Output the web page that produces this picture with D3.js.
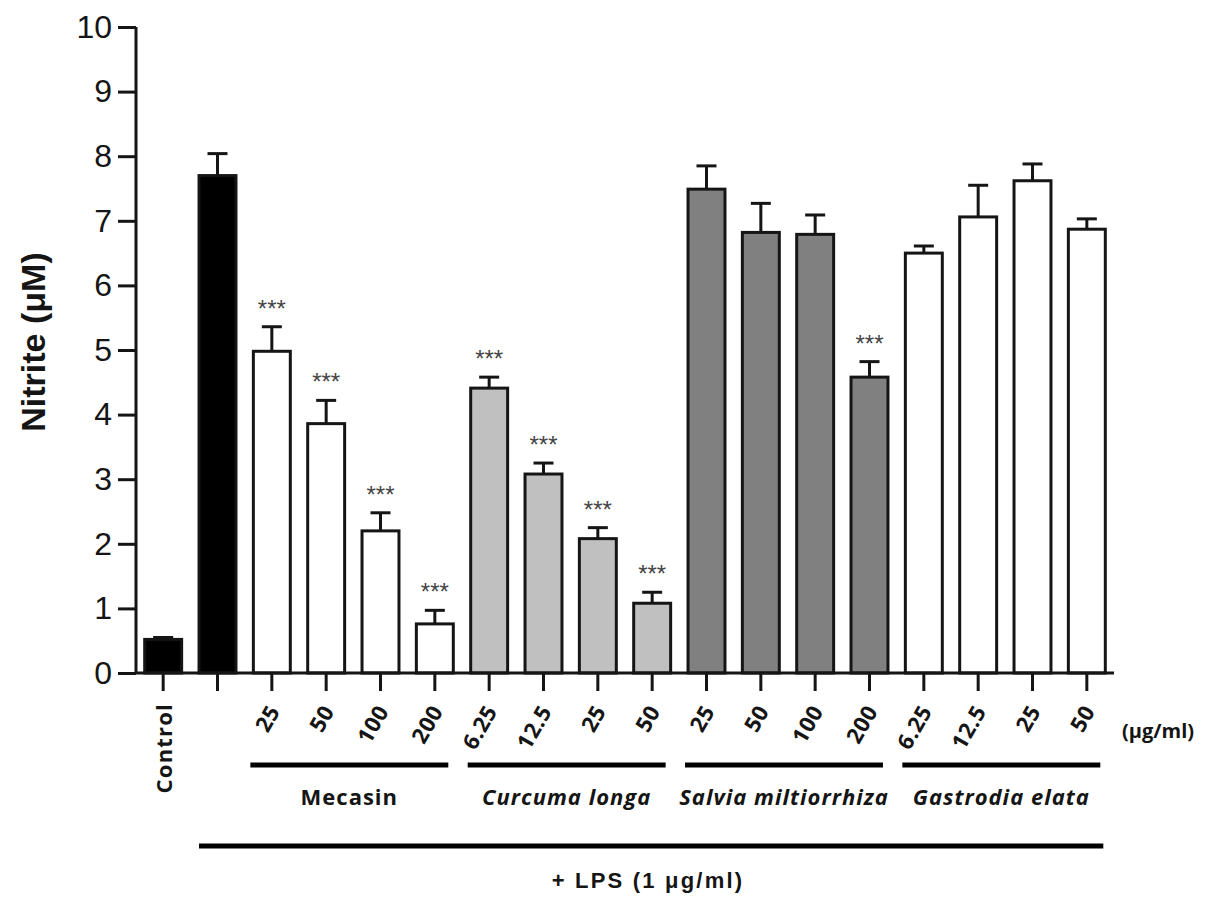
<!DOCTYPE html>
<html>
<head>
<meta charset="utf-8">
<script src="https://cdn.jsdelivr.net/npm/d3@7"></script>
<style>
  body { margin: 0; background: #fff; }
  svg { display: block; }
</style>
</head>
<body>
<svg width="1205" height="907"></svg>
<script>
// bar labels under the x axis, one per bar (Control + LPS + 4 groups of 4 doses)
var doseLabels = ["Control", "", "25", "50", "100", "200", "6.25", "12.5", "25", "50",
                  "25", "50", "100", "200", "6.25", "12.5", "25", "50"];
// nitrite (uM)
var means = [0.52, 7.70, 4.98, 3.86, 2.20, 0.76, 4.41, 3.08, 2.08, 1.08,
             7.49, 6.82, 6.79, 4.58, 6.50, 7.06, 7.62, 6.87];
var errs  = [0.03, 0.34, 0.38, 0.36, 0.28, 0.21, 0.17, 0.17, 0.17, 0.17,
             0.36, 0.45, 0.30, 0.24, 0.11, 0.49, 0.26, 0.16];
var stars = ["", "", "***", "***", "***", "***", "***", "***", "***", "***",
             "", "", "", "***", "", "", "", ""];
var barGroup = ["ctrl", "lps", "mec", "mec", "mec", "mec", "cur", "cur", "cur", "cur",
                "sal", "sal", "sal", "sal", "gas", "gas", "gas", "gas"];
var groupNames = ["Mecasin", "Curcuma longa", "Salvia miltiorrhiza", "Gastrodia elata"];
var groupKeys = ["mec", "cur", "sal", "gas"];
var yTicks = [0, 1, 2, 3, 4, 5, 6, 7, 8, 9, 10];

var fillFor = {ctrl: "#000", lps: "#000", mec: "#fff", cur: "#c0c0c0", sal: "#808080", gas: "#fff"};

var svg = d3.select("svg");
var idx = d3.range(means.length);

var x = d3.scaleBand().domain(idx).range([136, 1114]).paddingInner(0.32).paddingOuter(0.16);
var y = d3.scaleLinear().domain([0, 10]).range([673, 27]);
var bw = x.bandwidth();

// bars
svg.append("g").selectAll("rect").data(idx).join("rect")
  .attr("x", i => x(i))
  .attr("y", i => y(means[i]))
  .attr("width", bw)
  .attr("height", i => y(0) - y(means[i]))
  .attr("fill", i => fillFor[barGroup[i]])
  .attr("stroke", "#151515")
  .attr("stroke-width", 3);

// error bars (upper only)
var eb = svg.append("g").attr("stroke", "#151515").attr("stroke-width", 3);
idx.forEach(function (i) {
  var cx = x(i) + bw / 2;
  eb.append("line").attr("x1", cx).attr("x2", cx).attr("y1", y(means[i])).attr("y2", y(means[i] + errs[i]));
  eb.append("line").attr("x1", cx - 10).attr("x2", cx + 10).attr("y1", y(means[i] + errs[i])).attr("y2", y(means[i] + errs[i]));
});

// significance stars
svg.append("g").selectAll("text").data(idx.filter(i => stars[i])).join("text")
  .attr("x", i => x(i) + bw / 2)
  .attr("y", i => y(means[i] + errs[i]) - 10)
  .attr("text-anchor", "middle")
  .attr("font-family", "Arial, 'Liberation Sans', sans-serif")
  .attr("font-size", 24)
  .attr("fill", "#444")
  .text(i => stars[i]);

// y axis
var yAxis = svg.append("g").attr("transform", "translate(136,0)")
  .call(d3.axisLeft(y).tickValues(yTicks).tickSize(18).tickSizeOuter(0).tickPadding(6).tickFormat(d3.format("d")));
yAxis.selectAll("path, line").attr("stroke", "#151515").attr("stroke-width", 3);
yAxis.selectAll("text").attr("font-family", "Arial, 'Liberation Sans', sans-serif")
  .attr("font-size", 32).attr("fill", "#151515");
yAxis.select(".domain").attr("d", "M0," + y(10) + "V" + y(0));

// x axis
var xAxis = svg.append("g").attr("transform", "translate(0,673)")
  .call(d3.axisBottom(x).tickSize(18).tickSizeOuter(0).tickFormat(""));
xAxis.selectAll("path, line").attr("stroke", "#151515").attr("stroke-width", 3);
xAxis.select(".domain").attr("d", "M136,0H1114");

// dose labels
var tickFont = "'Open Sans', 'Noto Sans', sans-serif";
svg.append("g").selectAll("text").data(idx.filter(i => doseLabels[i])).join("text")
  .attr("transform", function (i) {
    var cx = x(i) + bw / 2;
    return i === 0 ? "translate(" + (cx + 9) + ",703) rotate(-90)"
                   : "translate(" + (cx + 9) + ",711) rotate(-60)";
  })
  .attr("text-anchor", "end")
  .attr("font-family", tickFont)
  .attr("font-weight", "bold")
  .attr("font-size", 22)
  .attr("letter-spacing", i => i === 0 ? 1.2 : 0.6)
  .attr("fill", "#151515")
  .text(i => doseLabels[i]);

svg.append("text")
  .attr("x", 1158).attr("y", 738)
  .attr("text-anchor", "middle")
  .attr("font-family", tickFont).attr("font-weight", "bold").attr("font-size", 20)
  .attr("fill", "#151515")
  .text("(μg/ml)");

// group brackets
groupKeys.forEach(function (k, g) {
  var members = idx.filter(i => barGroup[i] === k);
  var x0 = x(members[0]) - 3, x1 = x(members[members.length - 1]) + bw - 5;
  svg.append("line").attr("x1", x0).attr("x2", x1).attr("y1", 765).attr("y2", 765)
    .attr("stroke", "#000").attr("stroke-width", 5);
  svg.append("text")
    .attr("x", (x0 + x1) / 2).attr("y", 805)
    .attr("text-anchor", "middle")
    .attr("font-family", tickFont).attr("font-weight", "bold").attr("font-size", 22)
    .attr("letter-spacing", 1)
    .attr("font-style", g === 0 ? "normal" : "italic")
    .attr("fill", "#151515")
    .text(groupNames[g]);
});

// LPS bracket
var lx0 = x(1), lx1 = x(idx.length - 1) + bw - 2;
svg.append("line").attr("x1", lx0).attr("x2", lx1).attr("y1", 846).attr("y2", 846)
  .attr("stroke", "#000").attr("stroke-width", 5);
svg.append("text")
  .attr("x", 648).attr("y", 888)
  .attr("text-anchor", "middle")
  .attr("font-family", "Arial, 'Liberation Sans', sans-serif").attr("font-weight", "bold").attr("font-size", 22)
  .attr("letter-spacing", 2.2)
  .attr("fill", "#151515")
  .text("+ LPS (1 μg/ml)");

// y title
svg.append("text")
  .attr("transform", "translate(45,342) rotate(-90)")
  .attr("text-anchor", "middle")
  .attr("font-family", "Arial, 'Liberation Sans', sans-serif").attr("font-weight", "bold").attr("font-size", 34)
  .attr("fill", "#151515")
  .text("Nitrite (μM)");
</script>
</body>
</html>
